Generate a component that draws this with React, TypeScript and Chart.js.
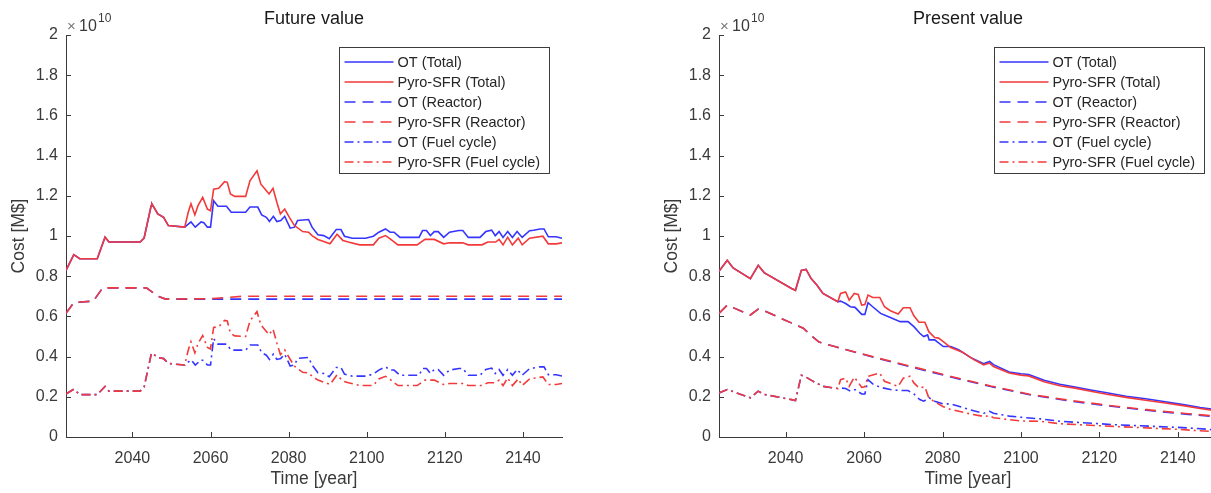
import React, { useEffect, useRef } from "react";
import { Chart, registerables } from "chart.js";

Chart.register(...registerables);

const FONT = "'Liberation Sans', Arial, Helvetica, sans-serif";
const BLUE = "#3535ff";
const RED = "#f23a3a";
const AXIS = "#3a3a3a";
const TEXT = "#3a3a3a";
const DASH = [11, 7];
const DASHDOT = [9, 4, 2, 4];

const seriesLabels = [
  "OT (Total)",
  "Pyro-SFR (Total)",
  "OT (Reactor)",
  "Pyro-SFR (Reactor)",
  "OT (Fuel cycle)",
  "Pyro-SFR (Fuel cycle)",
];

const xTicks = [2040, 2060, 2080, 2100, 2120, 2140];
const yTicks = [0, 0.2, 0.4, 0.6, 0.8, 1, 1.2, 1.4, 1.6, 1.8, 2];
const xMin = 2023;
const xMax = 2150;
const yMax = 2; // ×10^10

// ---------- Future value (units of 1e10 M$) ----------
const fvOtTotal = [
  [2023, 0.829], [2025, 0.907], [2026.5, 0.887], [2031, 0.887], [2033, 0.994], [2034, 0.97],
  [2042, 0.97], [2043, 0.99], [2044.8, 1.15], [2045, 1.16], [2046.5, 1.11], [2048, 1.093],
  [2049.2, 1.052], [2053.4, 1.044], [2055, 1.07], [2056.1, 1.044], [2057.6, 1.07], [2058.3, 1.066],
  [2059.2, 1.044], [2060, 1.044], [2060.8, 1.175], [2061.9, 1.148], [2064.1, 1.148], [2065.3, 1.118],
  [2069, 1.118], [2070.1, 1.144], [2072.1, 1.144], [2073.1, 1.105], [2074.3, 1.093], [2075.1, 1.072],
  [2076.1, 1.098], [2077, 1.072], [2078, 1.077], [2079, 1.098], [2080.4, 1.039], [2081.5, 1.044],
  [2082.3, 1.077], [2085.1, 1.082], [2086, 1.044], [2087.5, 1.006], [2089, 1.002], [2090.4, 0.986],
  [2092.2, 1.032], [2093.4, 1.032], [2094.3, 0.999], [2096.3, 0.989], [2099.7, 0.989], [2101.7, 0.999],
  [2103.1, 1.019], [2104.8, 1.035], [2106, 1.019], [2107, 1.019], [2108.5, 0.993], [2113.4, 0.993],
  [2114.3, 1.027], [2115.3, 1.027], [2116.3, 1.002], [2117.3, 1.022], [2118.3, 1.022], [2119.7, 0.993],
  [2121.2, 1.019], [2123.6, 1.027], [2124.6, 1.027], [2126, 0.993], [2129, 0.993], [2130.5, 1.022],
  [2132, 1.029], [2132.9, 1.002], [2133.9, 1.022], [2134.9, 0.993], [2136.1, 1.022], [2137.3, 0.993],
  [2138.5, 1.022], [2139.8, 0.993], [2141.7, 1.026], [2142.7, 1.029], [2144.4, 1.035], [2145.4, 1.035],
  [2146.5, 0.996], [2148.5, 0.996], [2150, 0.989],
];

const fvPyroTotal = [
  [2023, 0.829], [2025, 0.907], [2026.5, 0.887], [2031, 0.887], [2033, 0.994], [2034, 0.97],
  [2042, 0.97], [2043, 0.99], [2044.8, 1.15], [2045, 1.16], [2046.5, 1.11], [2048, 1.093],
  [2049.2, 1.052], [2053.4, 1.044], [2054.3, 1.118], [2055, 1.16], [2056, 1.105], [2056.8, 1.151],
  [2058, 1.192], [2059.2, 1.134], [2060, 1.126], [2060.8, 1.233], [2062.1, 1.237], [2063.6, 1.27],
  [2064.3, 1.267], [2065.1, 1.209], [2066.2, 1.197], [2069, 1.197], [2070.1, 1.275], [2071.9, 1.324],
  [2072.9, 1.258], [2074.1, 1.23], [2075, 1.209], [2076, 1.237], [2077, 1.167], [2077.9, 1.11],
  [2079, 1.134], [2080.2, 1.093], [2081.5, 1.052], [2083.6, 1.022], [2085.1, 1.019], [2086, 1.002],
  [2087.5, 0.983], [2089, 0.973], [2090.6, 0.961], [2092.4, 1.009], [2093.9, 0.978], [2095.3, 0.97],
  [2098.2, 0.956], [2101.7, 0.956], [2103.1, 0.989], [2104.8, 1.002], [2106, 0.986], [2108, 0.956],
  [2112.9, 0.956], [2114.9, 0.983], [2117.3, 0.983], [2119.7, 0.961], [2121.2, 0.966], [2124.6, 0.966],
  [2126, 0.956], [2129.5, 0.956], [2131, 0.97], [2133, 0.97], [2133.9, 0.983], [2134.9, 0.956],
  [2136.1, 0.994], [2137.3, 0.956], [2138.8, 0.989], [2139.8, 0.956], [2141.7, 0.989], [2145.1, 0.999],
  [2146.5, 0.961], [2148.5, 0.961], [2150, 0.966],
];

const fvOtReactor = [
  [2023, 0.615], [2025, 0.669], [2030, 0.676], [2032.4, 0.742], [2043.6, 0.742], [2045, 0.722],
  [2046.5, 0.7], [2048.5, 0.686], [2150, 0.686],
];

const fvPyroReactor = [
  [2023, 0.615], [2025, 0.669], [2030, 0.676], [2032.4, 0.742], [2043.6, 0.742], [2045, 0.722],
  [2046.5, 0.7], [2048.5, 0.686], [2060, 0.688], [2068, 0.7], [2150, 0.7],
];

const fvOtFuel = [
  [2023, 0.214], [2025, 0.238], [2026.5, 0.211], [2031, 0.211], [2033, 0.252], [2034, 0.228],
  [2042, 0.228], [2043, 0.248], [2044.8, 0.41], [2045, 0.418], [2046.5, 0.395], [2048, 0.39],
  [2049.2, 0.366], [2053.4, 0.358], [2055, 0.384], [2056.1, 0.358], [2057.6, 0.384], [2058.3, 0.38],
  [2059.2, 0.358], [2060, 0.358], [2060.8, 0.489], [2061.9, 0.462], [2064.1, 0.462], [2065.3, 0.432],
  [2069, 0.432], [2070.1, 0.458], [2072.1, 0.458], [2073.1, 0.419], [2074.3, 0.407], [2075.1, 0.386],
  [2076.1, 0.412], [2077, 0.386], [2078, 0.391], [2079, 0.412], [2080.4, 0.353], [2081.5, 0.358],
  [2082.3, 0.391], [2085.1, 0.396], [2086, 0.358], [2087.5, 0.32], [2089, 0.316], [2090.4, 0.3],
  [2092.2, 0.346], [2093.4, 0.346], [2094.3, 0.313], [2096.3, 0.303], [2099.7, 0.303], [2101.7, 0.313],
  [2103.1, 0.333], [2104.8, 0.349], [2106, 0.333], [2107, 0.333], [2108.5, 0.307], [2113.4, 0.307],
  [2114.3, 0.341], [2115.3, 0.341], [2116.3, 0.316], [2117.3, 0.336], [2118.3, 0.336], [2119.7, 0.307],
  [2121.2, 0.333], [2123.6, 0.341], [2124.6, 0.341], [2126, 0.307], [2129, 0.307], [2130.5, 0.336],
  [2132, 0.343], [2132.9, 0.316], [2133.9, 0.336], [2134.9, 0.307], [2136.1, 0.336], [2137.3, 0.307],
  [2138.5, 0.336], [2139.8, 0.307], [2141.7, 0.34], [2142.7, 0.343], [2144.4, 0.349], [2145.4, 0.349],
  [2146.5, 0.31], [2148.5, 0.31], [2150, 0.303],
];

const fvPyroFuel = [
  [2023, 0.214], [2025, 0.238], [2026.5, 0.211], [2031, 0.211], [2033, 0.252], [2034, 0.228],
  [2042, 0.228], [2043, 0.248], [2044.8, 0.41], [2045, 0.418], [2046.5, 0.395], [2048, 0.39],
  [2049.2, 0.366], [2053.4, 0.358], [2054.3, 0.432], [2055, 0.474], [2056, 0.419], [2056.8, 0.465],
  [2058, 0.505], [2059.2, 0.446], [2060, 0.438], [2060.8, 0.545], [2062.1, 0.549], [2063.6, 0.58],
  [2064.3, 0.577], [2065.1, 0.517], [2066.2, 0.503], [2069, 0.5], [2070.1, 0.577], [2071.9, 0.624],
  [2072.9, 0.558], [2074.1, 0.53], [2075, 0.509], [2076, 0.537], [2077, 0.467], [2077.9, 0.41],
  [2079, 0.434], [2080.2, 0.393], [2081.5, 0.352], [2083.6, 0.322], [2085.1, 0.319], [2086, 0.302],
  [2087.5, 0.283], [2089, 0.273], [2090.6, 0.261], [2092.4, 0.309], [2093.9, 0.278], [2095.3, 0.27],
  [2098.2, 0.256], [2101.7, 0.256], [2103.1, 0.289], [2104.8, 0.302], [2106, 0.286], [2108, 0.256],
  [2112.9, 0.256], [2114.9, 0.283], [2117.3, 0.283], [2119.7, 0.261], [2121.2, 0.266], [2124.6, 0.266],
  [2126, 0.256], [2129.5, 0.256], [2131, 0.27], [2133, 0.27], [2133.9, 0.283], [2134.9, 0.256],
  [2136.1, 0.294], [2137.3, 0.256], [2138.8, 0.289], [2139.8, 0.256], [2141.7, 0.289], [2145.1, 0.299],
  [2146.5, 0.261], [2148.5, 0.261], [2150, 0.266],
];

// ---------- Present value (units of 1e10 M$) ----------
const pvPyroTotal = [
  [2023, 0.824], [2025.1, 0.879], [2026.6, 0.841], [2031, 0.788], [2033, 0.854], [2034.5, 0.818],
  [2041.5, 0.739], [2042.5, 0.73], [2044, 0.829], [2045.2, 0.834], [2046.5, 0.788], [2048, 0.755],
  [2049.5, 0.714], [2053.3, 0.673], [2054, 0.714], [2055.3, 0.722], [2056.2, 0.681], [2057.5, 0.714],
  [2058.5, 0.709], [2059.4, 0.656], [2060.2, 0.659], [2061, 0.706], [2062.2, 0.694], [2064, 0.694],
  [2065.2, 0.648], [2066.7, 0.628], [2068.7, 0.612], [2070, 0.643], [2071.7, 0.643], [2072.7, 0.603],
  [2074, 0.571], [2075.5, 0.571], [2076.5, 0.524], [2078, 0.495], [2079, 0.492], [2080.2, 0.475],
  [2082.1, 0.445], [2085.1, 0.422], [2088.1, 0.384], [2090.5, 0.359], [2092, 0.368], [2093, 0.351],
  [2097, 0.318], [2100, 0.308], [2102, 0.304], [2105.9, 0.275], [2109.9, 0.255], [2113.8, 0.243],
  [2117.8, 0.228], [2121.9, 0.213], [2126.8, 0.197], [2131.8, 0.183], [2136.8, 0.169], [2141.8, 0.155],
  [2145.7, 0.142], [2150, 0.13],
];

const pvOtTotal = [
  [2023, 0.824], [2025.1, 0.879], [2026.6, 0.841], [2031, 0.788], [2033, 0.854], [2034.5, 0.818],
  [2041.5, 0.739], [2042.5, 0.73], [2044, 0.829], [2045.2, 0.834], [2046.5, 0.788], [2048, 0.755],
  [2049.5, 0.714], [2053.3, 0.673], [2054, 0.676], [2055.3, 0.664], [2056.5, 0.648], [2057.7, 0.645],
  [2059.4, 0.61], [2060.2, 0.61], [2061, 0.668], [2062.2, 0.648], [2064.2, 0.615], [2066.7, 0.594],
  [2069.2, 0.574], [2071.2, 0.574], [2072.7, 0.549], [2074.2, 0.516], [2075.2, 0.5], [2076.2, 0.508],
  [2076.6, 0.483], [2078, 0.483], [2080.2, 0.45], [2082.1, 0.45], [2084.1, 0.434], [2087.1, 0.396],
  [2090.5, 0.364], [2092, 0.376], [2093, 0.36], [2097, 0.323], [2100, 0.315], [2102, 0.311],
  [2105.9, 0.282], [2109.9, 0.262], [2113.8, 0.249], [2117.8, 0.234], [2121.9, 0.22], [2126.8, 0.203],
  [2131.8, 0.19], [2136.8, 0.175], [2141.8, 0.16], [2145.7, 0.147], [2150, 0.135],
];

const pvOtReactor = [
  [2023, 0.615], [2025.1, 0.656], [2031, 0.607], [2033, 0.636], [2034.5, 0.628], [2044.5, 0.541],
  [2046.5, 0.505], [2048.5, 0.472], [2052.5, 0.45], [2062.5, 0.396], [2072.5, 0.346], [2082.4, 0.297],
  [2092.3, 0.251], [2102.2, 0.21], [2112.2, 0.18], [2122.1, 0.155], [2132, 0.133], [2142, 0.114],
  [2150, 0.1],
];

const pvPyroReactor = [
  [2023, 0.615], [2025.1, 0.656], [2031, 0.607], [2033, 0.636], [2034.5, 0.628], [2044.5, 0.541],
  [2046.5, 0.505], [2048.5, 0.472], [2052.5, 0.45], [2062.5, 0.398], [2072.5, 0.349], [2082.4, 0.3],
  [2092.3, 0.254], [2102.2, 0.213], [2112.2, 0.183], [2122.1, 0.158], [2132, 0.136], [2142, 0.117],
  [2150, 0.103],
];

const pvOtFuel = [
  [2023, 0.219], [2025.1, 0.236], [2031, 0.195], [2033, 0.228], [2034.5, 0.212], [2041.5, 0.186],
  [2042.5, 0.181], [2044, 0.307], [2045.2, 0.298], [2047, 0.277], [2049.5, 0.252], [2053.3, 0.241],
  [2054, 0.244], [2055.3, 0.241], [2056.5, 0.228], [2057.7, 0.236], [2059.4, 0.214], [2060.2, 0.214],
  [2061, 0.285], [2062.2, 0.264], [2064.2, 0.247], [2066.7, 0.236], [2069.2, 0.231], [2071.2, 0.231],
  [2072.7, 0.214], [2074.2, 0.186], [2075.2, 0.178], [2076.6, 0.195], [2078, 0.178], [2080.2, 0.165],
  [2082.1, 0.165], [2084.1, 0.153], [2087.1, 0.135], [2090.5, 0.118], [2092, 0.128], [2093, 0.118],
  [2097, 0.104], [2100, 0.098], [2105, 0.09], [2110, 0.078], [2115, 0.072], [2120, 0.066],
  [2125, 0.06], [2130, 0.056], [2135, 0.052], [2140, 0.048], [2145, 0.042], [2150, 0.035],
];

const pvPyroFuel = [
  [2023, 0.219], [2025.1, 0.236], [2031, 0.195], [2033, 0.228], [2034.5, 0.212], [2041.5, 0.186],
  [2042.5, 0.181], [2044, 0.307], [2045.2, 0.298], [2047, 0.277], [2049.5, 0.252], [2053.3, 0.241],
  [2054, 0.285], [2055.3, 0.293], [2056.2, 0.252], [2057.5, 0.298], [2059.4, 0.247], [2060.2, 0.25],
  [2061, 0.302], [2064, 0.318], [2065.2, 0.277], [2068.7, 0.252], [2070, 0.293], [2071.7, 0.302],
  [2072.7, 0.269], [2074, 0.244], [2075.5, 0.25], [2076.5, 0.195], [2078, 0.175], [2080.2, 0.151],
  [2082.1, 0.137], [2087.1, 0.115], [2090.5, 0.102], [2092, 0.106], [2093, 0.096], [2097, 0.086],
  [2100, 0.08], [2105, 0.078], [2110, 0.066], [2120, 0.056], [2130, 0.047], [2140, 0.038],
  [2150, 0.026],
];

const fvSeries = [fvOtTotal, fvPyroTotal, fvOtReactor, fvPyroReactor, fvOtFuel, fvPyroFuel];
const pvSeries = [pvOtTotal, pvPyroTotal, pvOtReactor, pvPyroReactor, pvOtFuel, pvPyroFuel];

const colorOf = (i: number) => (i % 2 === 0 ? BLUE : RED);
const dashOf = (i: number) => (i < 2 ? [] : i < 4 ? DASH : DASHDOT);

function makeDatasets(series: number[][][]) {
  return series.map((pts, i) => ({
    label: seriesLabels[i],
    data: pts.map(([x, y]) => ({ x, y })),
    borderColor: colorOf(i),
    backgroundColor: colorOf(i),
    borderDash: dashOf(i),
    borderWidth: 1.6,
    pointRadius: 0,
    fill: false,
    tension: 0,
    order: 10 - i,
  }));
}

const overlayPlugin = {
  id: "matlabOverlay",
  afterDraw(chart: any) {
    const ctx = chart.ctx as CanvasRenderingContext2D;
    const { left, right, top, bottom } = chart.chartArea;
    const xs = chart.scales.x;
    const ys = chart.scales.y;
    ctx.save();
    // inward tick marks
    ctx.strokeStyle = AXIS;
    ctx.lineWidth = 1;
    ctx.setLineDash([]);
    ctx.beginPath();
    for (const t of xTicks) {
      const px = Math.round(xs.getPixelForValue(t)) + 0.5;
      ctx.moveTo(px, bottom);
      ctx.lineTo(px, bottom - 5);
    }
    for (const t of yTicks) {
      const py = Math.round(ys.getPixelForValue(t)) + 0.5;
      ctx.moveTo(left, py);
      ctx.lineTo(left + 5, py);
    }
    ctx.stroke();

    // exponent label ×10^10
    ctx.textAlign = "left";
    ctx.textBaseline = "alphabetic";
    ctx.font = `15px ${FONT}`;
    ctx.fillStyle = "#777";
    ctx.fillText("\u00d7", left + 1, top - 4.5);
    ctx.fillStyle = TEXT;
    ctx.font = `16px ${FONT}`;
    ctx.fillText("10", left + 13, top - 4.5);
    ctx.font = `12px ${FONT}`;
    ctx.fillText("10", left + 32, top - 13);

    // legend
    const w = 210;
    const h = 126;
    const bx = Math.round(right - 13 - w) + 0.5;
    const by = Math.round(top + 12) + 0.5;
    ctx.fillStyle = "#ffffff";
    ctx.fillRect(bx, by, w, h);
    ctx.strokeStyle = "#3c3c3c";
    ctx.lineWidth = 1;
    ctx.strokeRect(bx, by, w, h);
    ctx.font = `14.5px ${FONT}`;
    ctx.textBaseline = "middle";
    chart.data.datasets.forEach((ds: any, i: number) => {
      const yy = by + 14.5 + i * 20;
      ctx.beginPath();
      ctx.strokeStyle = ds.borderColor;
      ctx.lineWidth = 1.4;
      ctx.setLineDash(ds.borderDash || []);
      ctx.moveTo(bx + 5, yy);
      ctx.lineTo(bx + 54, yy);
      ctx.stroke();
      ctx.setLineDash([]);
      ctx.fillStyle = "#262626";
      ctx.fillText(ds.label, bx + 58, yy + 0.5);
    });
    ctx.restore();
  },
};

function buildOptions(title: string, padRight: number) {
  return {
    animation: false,
    responsive: false,
    events: [],
    layout: { padding: { left: 0, right: padRight, top: 0, bottom: 0 } },
    plugins: {
      legend: { display: false },
      tooltip: { enabled: false },
      title: {
        display: true,
        text: title,
        fullSize: false,
        color: "#1a1a1a",
        font: { family: FONT, size: 18, weight: "normal" },
        padding: { top: 8, bottom: 5.4 },
      },
    },
    scales: {
      x: {
        type: "linear",
        min: xMin,
        max: xMax,
        afterBuildTicks: (s: any) => {
          s.ticks = xTicks.map((v) => ({ value: v }));
        },
        afterFit: (s: any) => {
          s.height = 56;
        },
        grid: { display: false, drawTicks: false },
        border: { display: true, color: AXIS, width: 1 },
        ticks: {
          color: TEXT,
          font: { family: FONT, size: 16 },
          padding: 12,
          maxRotation: 0,
          autoSkip: false,
          callback: (v: any) => String(v),
        },
        title: {
          display: true,
          text: "Time [year]",
          color: TEXT,
          font: { family: FONT, size: 17.5 },
          padding: { top: 0, bottom: 3.5 },
        },
      },
      y: {
        type: "linear",
        min: 0,
        max: yMax,
        afterBuildTicks: (s: any) => {
          s.ticks = yTicks.map((v) => ({ value: v }));
        },
        afterFit: (s: any) => {
          s.width = 66;
        },
        grid: { display: false, drawTicks: false },
        border: { display: true, color: AXIS, width: 1 },
        ticks: {
          color: TEXT,
          font: { family: FONT, size: 16 },
          padding: 8,
          autoSkip: false,
          callback: (v: any) => Number(v).toFixed(1).replace(/\.0$/, ""),
        },
        title: {
          display: true,
          text: "Cost [M$]",
          color: TEXT,
          font: { family: FONT, size: 17.5 },
          padding: { top: 8.5, bottom: 0 },
        },
      },
    },
  };
}

function Panel(props: { series: number[][][]; title: string; left: number; padRight: number }) {
  const ref = useRef<HTMLCanvasElement | null>(null);
  useEffect(() => {
    if (!ref.current) return;
    const chart = new Chart(ref.current, {
      type: "line",
      data: { datasets: makeDatasets(props.series) as any },
      options: buildOptions(props.title, props.padRight) as any,
      plugins: [overlayPlugin as any],
    });
    return () => chart.destroy();
  }, []);
  return (
    <canvas
      ref={ref}
      width={600}
      height={493}
      style={{ position: "absolute", left: props.left, top: 0, width: 600, height: 493 }}
    />
  );
}

export default function App() {
  return (
    <div
      style={{
        position: "absolute",
        left: 0,
        top: 0,
        width: 1211,
        height: 493,
        overflow: "hidden",
        background: "#ffffff",
      }}
    >
      <Panel series={fvSeries} title="Future value" left={0} padRight={38} />
      <Panel series={pvSeries} title="Present value" left={653} padRight={36} />
    </div>
  );
}
